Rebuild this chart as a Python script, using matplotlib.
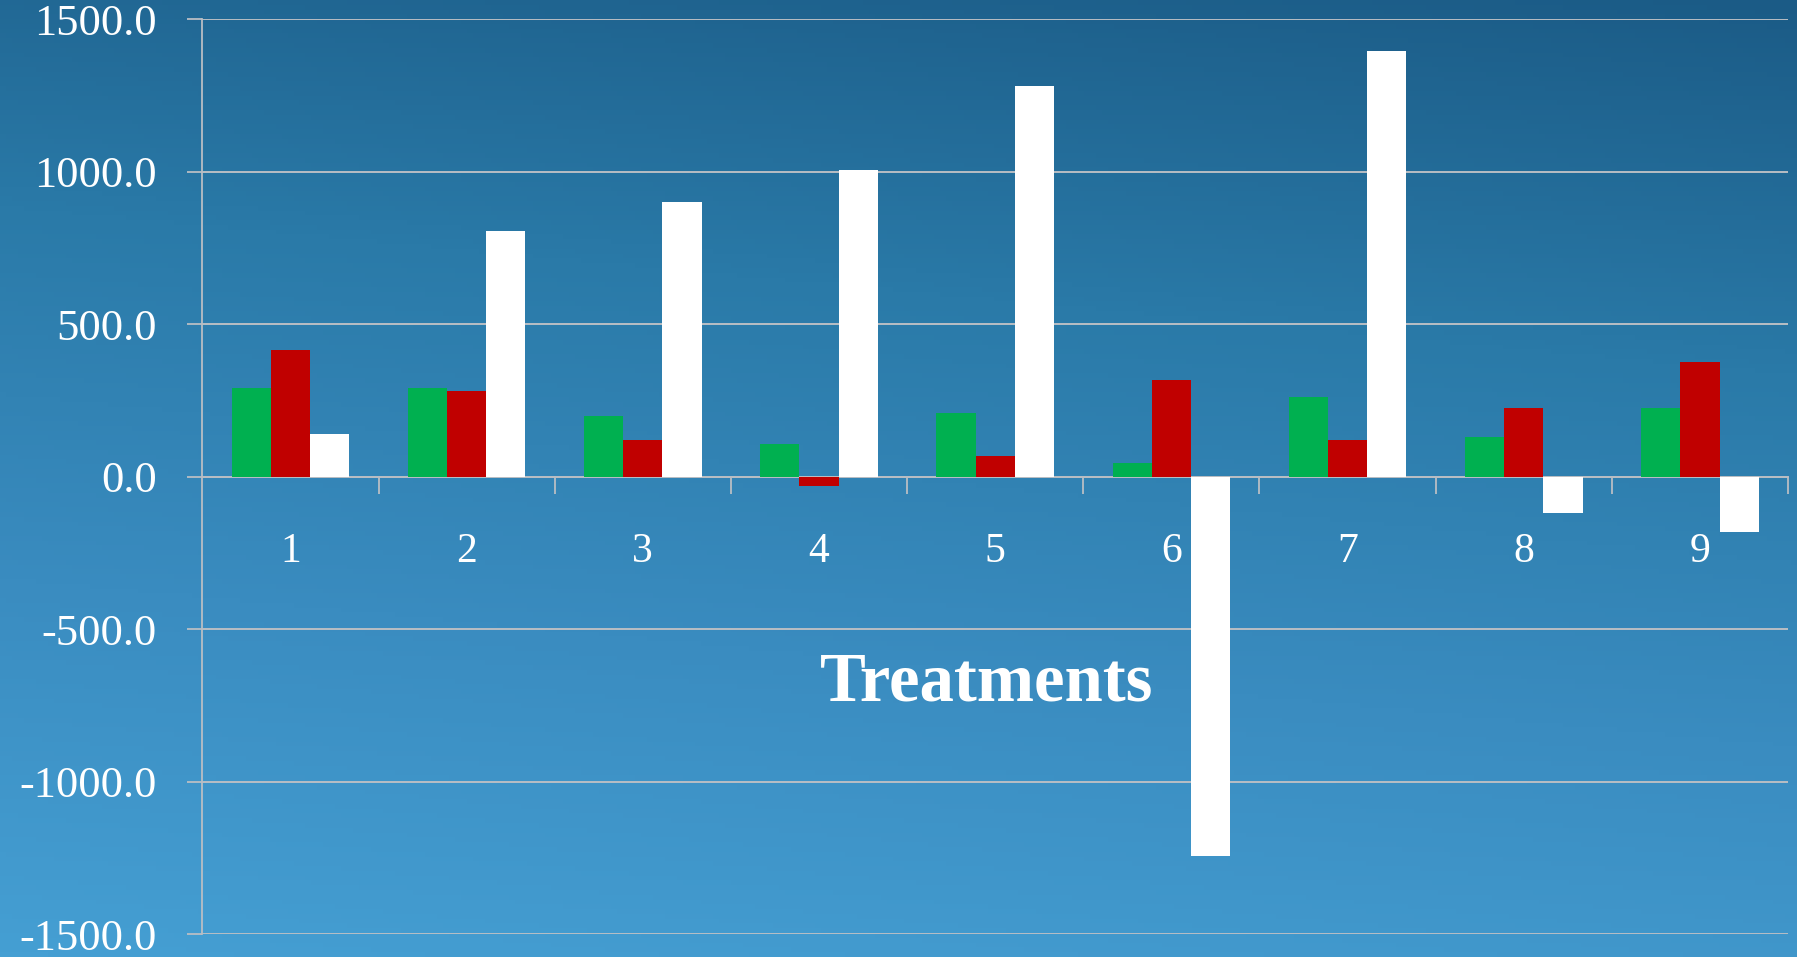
import numpy as np
import matplotlib
matplotlib.use("Agg")
import matplotlib.pyplot as plt
from matplotlib.colors import LinearSegmentedColormap

# treatment effects per group (three series)
treatments = ["1", "2", "3", "4", "5", "6", "7", "8", "9"]
green_vals = [291, 291, 198, 108, 210, 46, 261, 130, 224]
red_vals = [417, 280, 119, -29, 67, 316, 119, 224, 375]
white_vals = [140, 807, 900, 1005, 1281, -1243, 1397, -120, -183]

y_ticks = [-1500, -1000, -500, 0, 500, 1000, 1500]
axis_title = "Treatments"

GRID = "#b9bec4"
SERIF = "Liberation Serif"

fig = plt.figure(figsize=(17.97, 9.57), dpi=100)

# blue gradient background, darker towards the top right
bg = fig.add_axes([0, 0, 1, 1])
bg.set_axis_off()
ny, nx = 200, 300
yy, xx = np.mgrid[0:1:ny * 1j, 0:1:nx * 1j]
t = np.clip(0.85 * yy + 0.15 * (1 - xx), 0, 1)
cmap = LinearSegmentedColormap.from_list(
    "bg", ["#1b5b86", "#2a7aa8", "#3a8cc0", "#459fd3"])
bg.imshow(t, cmap=cmap, aspect="auto", origin="upper", extent=[0, 1, 0, 1])
bg.set_xlim(0, 1)
bg.set_ylim(0, 1)

ax = fig.add_axes([0.1126, 0.024, 0.995 - 0.1126, 0.9558])
ax.patch.set_alpha(0)

x = np.arange(1, len(treatments) + 1)
w = 0.2225
ax.bar(x - w, green_vals, w, color="#00b050", zorder=3)
ax.bar(x, red_vals, w, color="#c00000", zorder=3)
ax.bar(x + w, white_vals, w, color="#ffffff", zorder=3)

ax.set_xlim(0.5, 9.5)
ax.set_ylim(-1500, 1500)

ax.set_yticks(y_ticks)
ax.set_yticklabels([f"{v:.1f}" for v in y_ticks])
ax.yaxis.grid(True, color=GRID, lw=1.4)
ax.set_axisbelow(True)
ax.tick_params(axis="y", direction="out", length=11, width=1.3, color=GRID,
               pad=22, labelcolor="white", labelsize=32)
for lab in ax.get_yticklabels():
    lab.set_family(SERIF)

for s in ("top", "right"):
    ax.spines[s].set_visible(False)
ax.spines["left"].set_color(GRID)
ax.spines["left"].set_linewidth(1.3)
ax.spines["bottom"].set_position(("data", 0))
ax.spines["bottom"].set_color(GRID)
ax.spines["bottom"].set_linewidth(1.4)
ax.spines["bottom"].set_zorder(2)

# category separators hang below the zero line
ax.set_xticks(np.arange(1.5, 9.6, 1.0))
ax.set_xticklabels([])
ax.tick_params(axis="x", direction="out", length=12, width=1.3, color=GRID)

for xi, name in zip(x, treatments):
    ax.text(xi, -281, name, ha="center", va="baseline", color="white",
            fontsize=30, family=SERIF)

ax.text(4.95, -734, axis_title, ha="center", va="baseline", color="white",
        fontsize=49.5, fontweight="bold", family=SERIF)

fig.savefig("out.png", dpi=100)
plt.close(fig)
